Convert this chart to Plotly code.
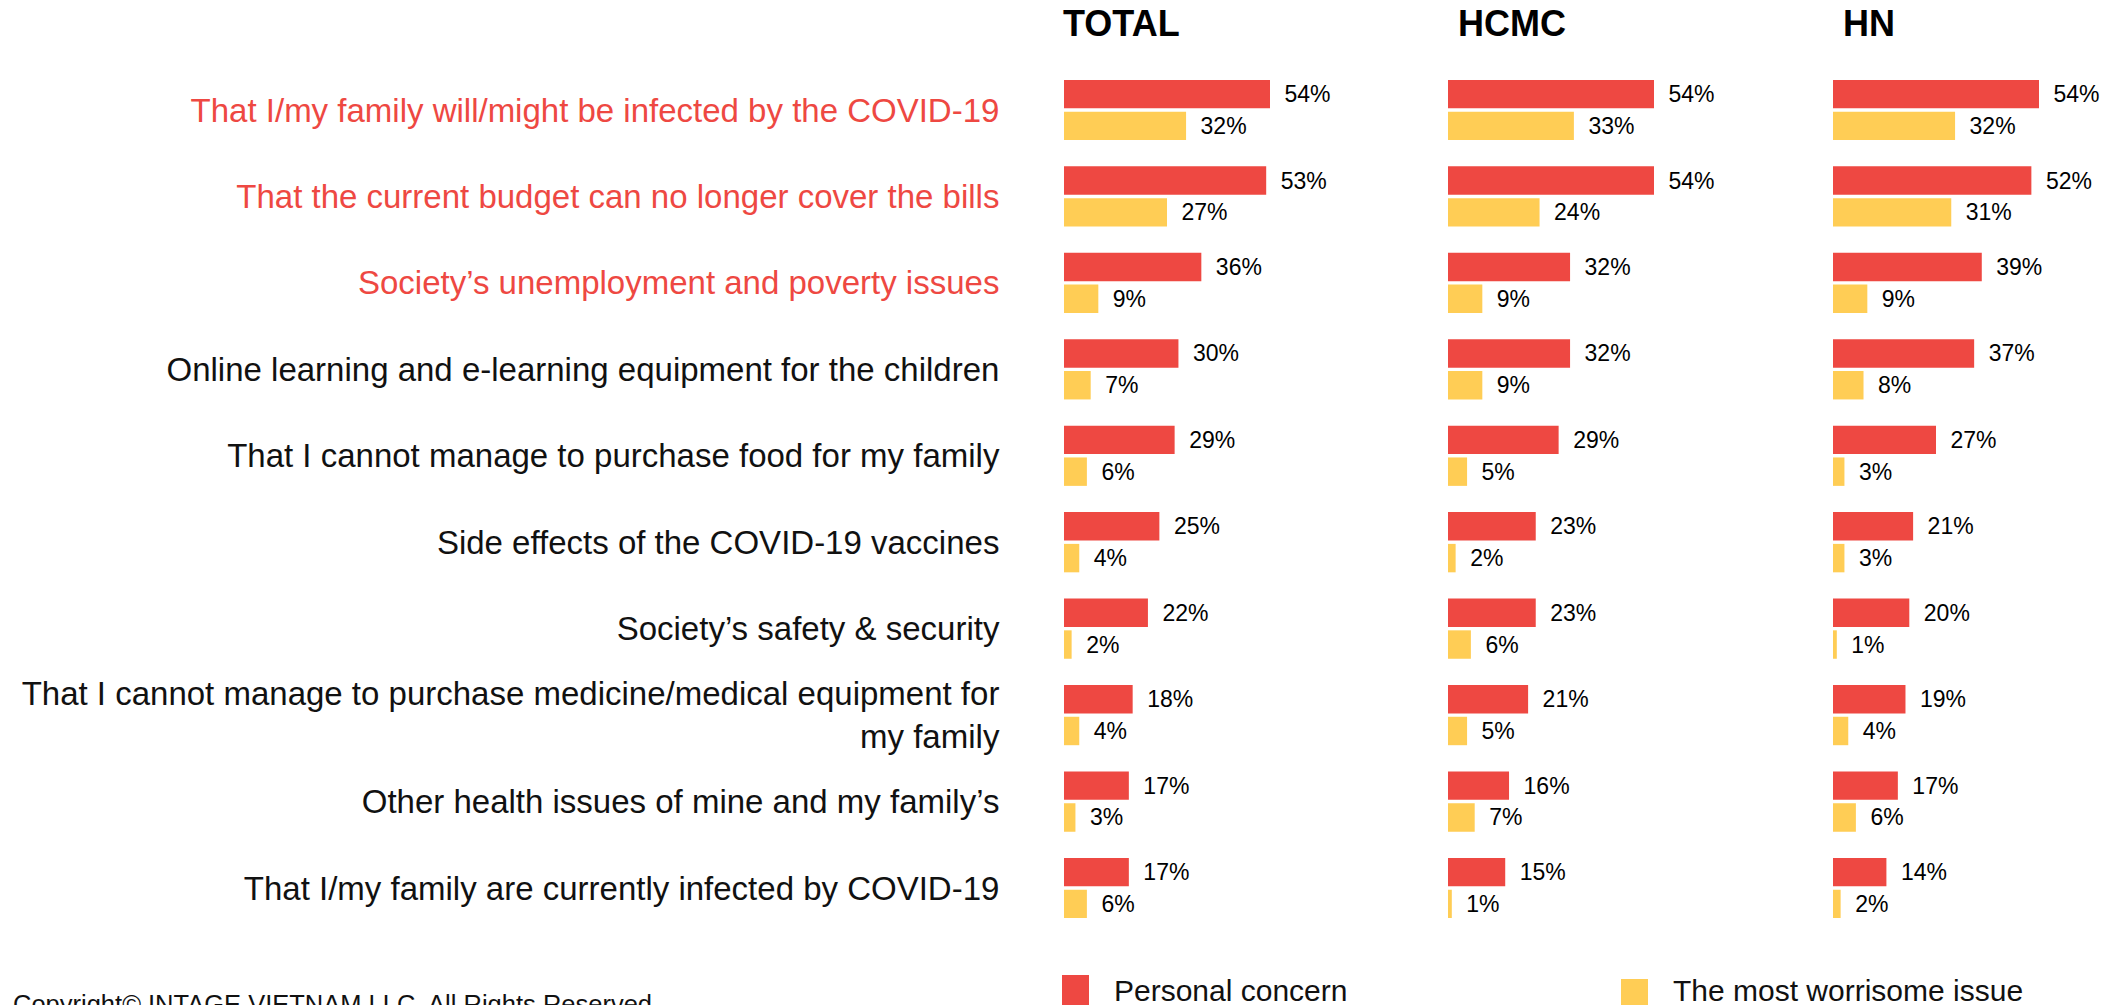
import plotly.graph_objects as go

# Concern statements (top to bottom)
concerns = [
    "That I/my family will/might be infected by the COVID-19",
    "That the current budget can no longer cover the bills",
    "Society\u2019s unemployment and poverty issues",
    "Online learning and e-learning equipment for the children",
    "That I cannot manage to purchase food for my family",
    "Side effects of the COVID-19 vaccines",
    "Society\u2019s safety & security",
    "That I cannot manage to purchase medicine/medical equipment for<br>my family",
    "Other health issues of mine and my family\u2019s",
    "That I/my family are currently infected by COVID-19",
]
highlighted = [True, True, True, False, False, False, False, False, False, False]

regions = ["TOTAL", "HCMC", "HN"]
series_names = ["Personal concern", "The most worrisome issue"]

# Percent of respondents per region
personal_total = [54, 53, 36, 30, 29, 25, 22, 18, 17, 17]
worry_total = [32, 27, 9, 7, 6, 4, 2, 4, 3, 6]
personal_hcmc = [54, 54, 32, 32, 29, 23, 23, 21, 16, 15]
worry_hcmc = [33, 24, 9, 9, 5, 2, 6, 5, 7, 1]
personal_hn = [54, 52, 39, 37, 27, 21, 20, 19, 17, 14]
worry_hn = [32, 31, 9, 8, 3, 3, 1, 4, 6, 2]

personal = [personal_total, personal_hcmc, personal_hn]
worry = [worry_total, worry_hcmc, worry_hn]

RED = "#EE4842"
YELLOW = "#FFCD55"
LABEL_RED = "#EE4842"
W, H = 2118, 1005
BODY_FONT = "Liberation Sans, Arial, sans-serif"

cat_ids = list(range(len(concerns)))

fig = go.Figure()
x_names = ["x", "x2", "x3"]
for k in range(len(regions)):
    for vals, color, name in ((personal[k], RED, series_names[0]),
                              (worry[k], YELLOW, series_names[1])):
        fig.add_trace(go.Bar(
            x=vals, y=cat_ids, orientation="h",
            xaxis=x_names[k], yaxis="y",
            name=name, marker=dict(color=color, line=dict(width=0)),
            texttemplate="\u2002%{x}%", textposition="outside",
            constraintext="none", cliponaxis=False,
            outsidetextfont=dict(family=BODY_FONT, size=23, color="#000000"),
            showlegend=False, hoverinfo="skip",
        ))

# Panel placement (pixels)
panel_left = [1064, 1448, 1833]
px_per_pct = 206 / 54
x_max = 74.5
panel_w = x_max * px_per_pct

layout_axes = {}
for k, name in enumerate(["xaxis", "xaxis2", "xaxis3"]):
    d0 = panel_left[k] / W
    d1 = min(1.0, (panel_left[k] + panel_w) / W)
    layout_axes[name] = dict(domain=[d0, d1], range=[0, x_max], anchor="y",
                             visible=False, fixedrange=True)

tick_text = [
    f'<span style="color:{LABEL_RED}">{c}</span>' if hl else c
    for c, hl in zip(concerns, highlighted)
]

top_px, bottom_px = 66.8, 931.2
fig.update_layout(
    **layout_axes,
    yaxis=dict(
        domain=[1 - bottom_px / H, 1 - top_px / H],
        range=[len(concerns) - 0.5, -0.5],
        tickmode="array", tickvals=cat_ids, ticktext=tick_text,
        ticks="outside", ticklen=57, tickcolor="rgba(0,0,0,0)",
        showline=False, showgrid=False, zeroline=False,
        tickfont=dict(family=BODY_FONT, size=33, color="#111111"),
        anchor="x", fixedrange=True,
    ),
    barmode="group", bargap=0.265, bargroupgap=0.105,
    width=W, height=H,
    margin=dict(l=0, r=0, t=0, b=0),
    paper_bgcolor="white", plot_bgcolor="white",
    showlegend=False,
)

# Panel headers
for k, title in enumerate(regions):
    fig.add_annotation(
        text=f"<b>{title}</b>", xref="paper", yref="paper",
        x=panel_left[k] / W, y=1 - 23.5 / H, xanchor="left", yanchor="middle",
        xshift=-3 if k == 0 else 8,
        showarrow=False,
        font=dict(family=BODY_FONT, size=36, color="#000000"),
    )

# Manual legend along the bottom edge
legend_items = [(series_names[0], RED, 1062, 975), (series_names[1], YELLOW, 1621, 979)]
for name, color, lx, ly in legend_items:
    fig.add_shape(type="rect", xref="paper", yref="paper",
                  x0=lx / W, x1=(lx + 27) / W, y0=1 - ly / H, y1=-0.02,
                  fillcolor=color, line=dict(width=0))
    fig.add_annotation(text=name, xref="paper", yref="paper",
                       x=(lx + 50) / W, y=1 - 990 / H,
                       xanchor="left", yanchor="middle", showarrow=False,
                       font=dict(family=BODY_FONT, size=30, color="#111111"))

fig.add_annotation(text="Copyright\u00a9 INTAGE VIETNAM LLC. All Rights Reserved",
                   xref="paper", yref="paper", x=11 / W, y=1 - 1004 / H,
                   xanchor="left", yanchor="middle", showarrow=False,
                   font=dict(family=BODY_FONT, size=25.5, color="#111111"))

fig.write_html("out.html")
